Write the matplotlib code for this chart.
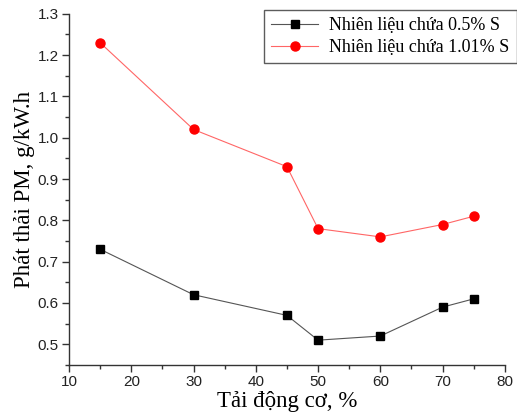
import matplotlib
matplotlib.use('Agg')
import matplotlib.pyplot as plt
from matplotlib.ticker import MultipleLocator

# tải động cơ, %
load = [15, 30, 45, 50, 60, 70, 75]
# phát thải PM, g/kW.h
pm_05 = [0.73, 0.62, 0.57, 0.51, 0.52, 0.59, 0.61]
pm_101 = [1.23, 1.02, 0.93, 0.78, 0.76, 0.79, 0.81]
labels = ['Nhiên liệu chứa 0.5% S', 'Nhiên liệu chứa 1.01% S']

serif = 'Liberation Serif'
sans = 'Liberation Sans'

fig = plt.figure(figsize=(5.17, 4.19), dpi=100)
ax = fig.add_axes([0.1335, 0.129, 0.843, 0.838])

ax.plot(load, pm_05, color='#555555', lw=0.8, marker='s', ms=6,
        mfc='black', mec='black', label=labels[0])
ax.plot(load, pm_101, color='#ff6666', lw=0.8, marker='o', ms=6.5,
        mfc='red', mec='red', label=labels[1])

ax.set_xlim(10, 80)
ax.set_ylim(0.45, 1.3)
ax.xaxis.set_major_locator(MultipleLocator(10))
ax.xaxis.set_minor_locator(MultipleLocator(5))
ax.yaxis.set_major_locator(MultipleLocator(0.1))
ax.yaxis.set_minor_locator(MultipleLocator(0.05))
ax.spines['top'].set_visible(False)
ax.spines['right'].set_visible(False)
for s in ['left', 'bottom']:
    ax.spines[s].set_color('#333333')
    ax.spines[s].set_linewidth(1.0)
ax.tick_params(which='major', direction='out', length=5, width=1, colors='#333333', pad=2.5)
ax.tick_params(which='minor', direction='out', length=3, width=1, colors='#333333')
for lab in ax.get_xticklabels() + ax.get_yticklabels():
    lab.set_fontfamily(sans)
    lab.set_fontsize(11)
    lab.set_color('#222222')

ax.set_xlabel('Tải động cơ, %', fontfamily=serif, fontsize=16.5, labelpad=1)
ax.set_ylabel('Phát thải PM, g/kW.h', fontfamily=serif, fontsize=16.5, labelpad=2)

leg = ax.legend(loc='upper right', bbox_to_anchor=(1.027, 1.012), borderaxespad=0,
                prop={'family': serif, 'size': 13}, frameon=True,
                fancybox=False, edgecolor='#333333', borderpad=0.4,
                handlelength=2.6, handletextpad=0.6, labelspacing=0.3)
leg.get_frame().set_linewidth(1.0)

fig.savefig('out.png', dpi=100)
